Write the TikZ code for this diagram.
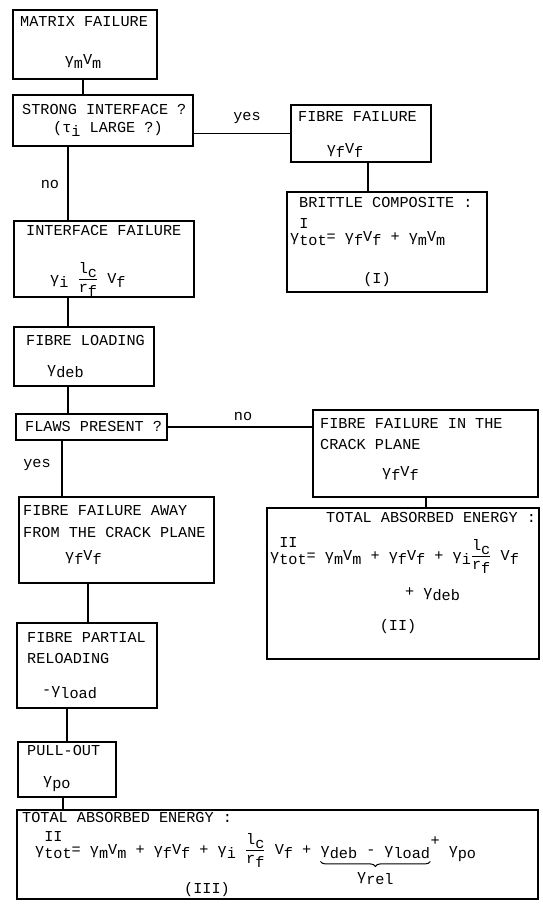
\documentclass[tikz,border=0pt]{standalone}
\usepackage{fontspec}
\usepackage{amsmath}
\setmainfont{Liberation Mono}
\usetikzlibrary{positioning,decorations.pathreplacing}

\newcommand{\lowr}[1]{\raisebox{-0.5ex}{#1}}
\newcommand{\highr}[1]{\raisebox{1.1ex}{#1}}
\newcommand{\tothi}[1]{\rlap{\raisebox{1.5ex}{#1}}\lowr{tot}}

\tikzset{
  flowbox/.style={draw, line width=1.2pt, inner sep=0pt},
  txt/.style={anchor=base west, inner sep=0pt, font=\fontsize{15.2}{18}\selectfont},
  ctxt/.style={txt, anchor=base},
  link/.style={line width=1.2pt},
  relbrace/.style={decorate, decoration={brace, mirror, amplitude=5pt}, line width=1pt},
}

\begin{document}
\begin{tikzpicture}[x=1pt, y=-1pt]
\useasboundingbox (0,0) rectangle (542,907);

% boxes
\node[flowbox, minimum width=144pt, minimum height=69pt] (matrix) at (85,44.5) {};
\node[flowbox, minimum width=180pt, minimum height=51pt] (strong) at (103,120.5) {};
\node[flowbox, minimum width=140pt, minimum height=57pt] (fibre) at (361,133.5) {};
\node[flowbox, minimum width=200pt, minimum height=100pt] (brittle) at (387,242) {};
\node[flowbox, minimum width=180pt, minimum height=76pt] (iface) at (104,259) {};
\node[flowbox, minimum width=140pt, minimum height=59pt] (loading) at (84,356.5) {};
\node[flowbox, minimum width=151pt, minimum height=26pt] (flaws) at (91.5,427) {};
\node[flowbox, minimum width=195pt, minimum height=86pt] (away) at (116.5,540) {};
\node[flowbox, minimum width=225pt, minimum height=87pt] (crack) at (425.5,453.5) {};
\node[flowbox, minimum width=272pt, minimum height=151pt] (totTwo) at (403,583.5) {};
\node[flowbox, minimum width=140pt, minimum height=85pt] (reload) at (87,665.5) {};
\node[flowbox, minimum width=98pt, minimum height=55pt] (pull) at (67,769.5) {};
\node[flowbox, minimum width=521pt, minimum height=89pt] (totThree) at (277.5,854.5) {};

% columns of the vertical links
\coordinate (colA) at (83,0);
\coordinate (colB) at (68,0);
\coordinate (colC) at (62,0);
\coordinate (colD) at (88,0);
\coordinate (colE) at (67,0);
\coordinate (colF) at (63,0);
\coordinate (colG) at (368,0);
\coordinate (colH) at (426,0);

\draw[link] (matrix.south -| colA) -- (strong.north -| colA);
\draw[link] (fibre.west) -- (fibre.west -| strong.east);
\draw[link] (fibre.south -| colG) -- (brittle.north -| colG);
\draw[link] (strong.south -| colB) -- (iface.north -| colB);
\draw[link] (iface.south -| colB) -- (loading.north -| colB);
\draw[link] (loading.south -| colB) -- (flaws.north -| colB);
\draw[link] (flaws.east) -- (flaws.east -| crack.west);
\draw[link] (flaws.south -| colC) -- (away.north -| colC);
\draw[link] (crack.south -| colH) -- (totTwo.north -| colH);
\draw[link] (away.south -| colD) -- (reload.north -| colD);
\draw[link] (reload.south -| colE) -- (pull.north -| colE);
\draw[link] (pull.south -| colF) -- (totThree.north -| colF);

% branch labels
\node[ctxt] (yesA) at (247,120) {yes};
\node[ctxt] (noA) at (50,188) {no};
\node[ctxt] (noB) at (243,420) {no};
\node[ctxt] (yesB) at (37,467) {yes};

% texts in the boxes
\node[txt] (matrixT) at (20,27) {MATRIX FAILURE};
\node[ctxt] (matrixF) at (83,64) {γ\lowr{m}V\lowr{m}};
\node[txt] (strongT) at (22,114) {STRONG INTERFACE ?};
\node[txt] (strongQ) at (53,132) {(τ\lowr{i} LARGE ?)};
\node[txt] (fibreT) at (298,121) {FIBRE FAILURE};
\node[ctxt] (fibreF) at (345,153) {γ\lowr{f}V\lowr{f}};
\node[txt] (brittleT) at (299,207) {BRITTLE COMPOSITE :};
\node[txt] (brittleF) at (290,241) {γ\tothi{I}= γ\lowr{f}V\lowr{f} + γ\lowr{m}V\lowr{m}};
\node[ctxt] (brittleN) at (377,283) {(I)};
\node[txt] (ifaceT) at (26,235) {INTERFACE FAILURE};
\node[txt] (ifaceF) at (50,283) {γ\lowr{i} $\dfrac{\text{l\lowr{c}}}{\text{r\lowr{f}}}$ V\lowr{f}};
\node[txt] (loadT) at (26,345) {FIBRE LOADING};
\node[txt] (loadF) at (47,373) {γ\lowr{deb}};
\node[txt] (flawsT) at (25,431) {FLAWS PRESENT ?};
\node[txt] (awayT) at (23,515) {FIBRE FAILURE AWAY};
\node[txt] (awayU) at (23,537) {FROM THE CRACK PLANE};
\node[txt] (awayF) at (65,560) {γ\lowr{f}V\lowr{f}};
\node[txt] (crackT) at (320,428) {FIBRE FAILURE IN THE};
\node[txt] (crackU) at (320,449) {CRACK PLANE};
\node[txt] (crackF) at (382,476) {γ\lowr{f}V\lowr{f}};
\node[txt] (totTwoT) at (326,522) {TOTAL ABSORBED ENERGY :};
\node[txt] (totTwoF) at (270,560) {γ\tothi{II}= γ\lowr{m}V\lowr{m} + γ\lowr{f}V\lowr{f} + γ\lowr{i}$\dfrac{\text{l\lowr{c}}}{\text{r\lowr{f}}}$ V\lowr{f}};
\node[txt] (totTwoG) at (405,596) {+ γ\lowr{deb}};
\node[ctxt] (totTwoN) at (398,630) {(II)};
\node[txt] (reloadT) at (27,642) {FIBRE PARTIAL};
\node[txt] (reloadU) at (27,663) {RELOADING};
\node[txt] (reloadF) at (42,694) {-γ\lowr{load}};
\node[txt] (pullT) at (27,755) {PULL-OUT};
\node[txt] (pullF) at (43,784) {γ\lowr{po}};
\node[txt] (totThreeT) at (22,822) {TOTAL ABSORBED ENERGY :};
\node[txt] (totThreeF) at (35,854) {γ\tothi{II}= γ\lowr{m}V\lowr{m} + γ\lowr{f}V\lowr{f} + γ\lowr{i} $\dfrac{\text{l\lowr{c}}}{\text{r\lowr{f}}}$ V\lowr{f} +};
\node[txt, xshift=9pt] (relA) at (totThreeF.base east) {γ\lowr{deb} - γ\lowr{load}};
\node[txt] (relB) at (relA.base east) {\highr{+} γ\lowr{po}};
\draw[relbrace] ([yshift=-3pt]relA.south west) -- ([yshift=-3pt]relA.south east);
\node[txt, below=14pt of relA] (relC) {γ\lowr{rel}};
\node[ctxt] (totThreeN) at (207,893) {(III)};
\end{tikzpicture}
\end{document}
